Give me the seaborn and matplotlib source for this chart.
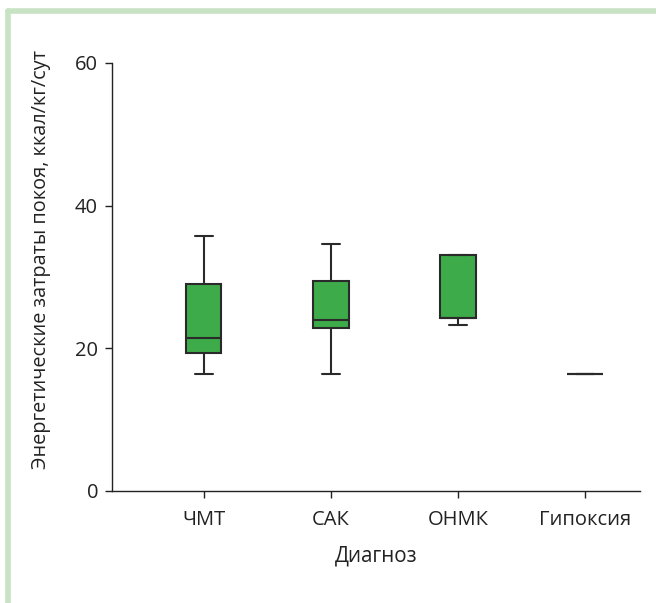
import matplotlib
matplotlib.use("Agg")
import matplotlib.pyplot as plt
import seaborn as sns
import pandas as pd
from matplotlib.lines import Line2D

# Five-number summaries (min, Q1, median, Q3, max)
categories = ["ЧМТ", "САК", "ОНМК", "Гипоксия"]
chmt = [16.4, 19.3, 21.4, 29.0, 35.8]
sak = [16.4, 22.9, 24.0, 29.4, 34.6]
onmk = [23.3, 24.2, 24.2, 33.1, 33.1]
hypoxia = [16.4]
yticks = [0, 20, 40, 60]

rows = []
for cat, vals in zip(categories, [chmt, sak, onmk, hypoxia]):
    for v in vals:
        rows.append({"Диагноз": cat, "value": v})
df = pd.DataFrame(rows)

sns.set_style("white")
plt.rcParams["font.family"] = ["Open Sans", "DejaVu Sans"]

fig = plt.figure(figsize=(6.56, 6.03), dpi=100)
ax = fig.add_axes([112/656, 1-491/603, (640-112)/656, (491-63)/603])

sns.boxplot(data=df, x="Диагноз", y="value", order=categories, ax=ax,
            color="#3dab4a", saturation=1, width=0.28, whis=(0, 100),
            linecolor="#2a2a2a", linewidth=1.5,
            medianprops={"color": "#2a2a2a", "linewidth": 1.5},
            capprops={"color": "#2a2a2a"}, whiskerprops={"color": "#2a2a2a"})

ax.set_ylim(0, 60)
ax.set_xlim(-0.72, 3.43)
ax.set_yticks(yticks)
ax.set_yticklabels([str(t) for t in yticks])
for s in ["top", "right"]:
    ax.spines[s].set_visible(False)
for s in ["left", "bottom"]:
    ax.spines[s].set_color("#222222")
    ax.spines[s].set_linewidth(1.0)
ax.tick_params(axis="both", which="both", direction="out", length=5, width=1,
               color="#222222", labelsize=14.5, labelcolor="#222222",
               left=True, bottom=True)
ax.tick_params(axis="x", pad=9)
ax.tick_params(axis="y", pad=5)
ax.set_xlabel("Диагноз", fontsize=14.8, color="#222222")
ax.set_ylabel("Энергетические затраты покоя, ккал/кг/сут", fontsize=14.3,
              color="#222222")
ax.xaxis.set_label_coords(0.5, -0.127)
ax.yaxis.set_label_coords(-0.115, 0.54)

# light green frame lines (top and left)
frame_col = "#c8e2c4"
fig.add_artist(Line2D([8/656, 1], [1-11/603, 1-11/603], color=frame_col,
                      linewidth=4, transform=fig.transFigure))
fig.add_artist(Line2D([8/656, 8/656], [0, 1-11/603], color=frame_col,
                      linewidth=4, transform=fig.transFigure))

fig.savefig("out.png", dpi=100)
